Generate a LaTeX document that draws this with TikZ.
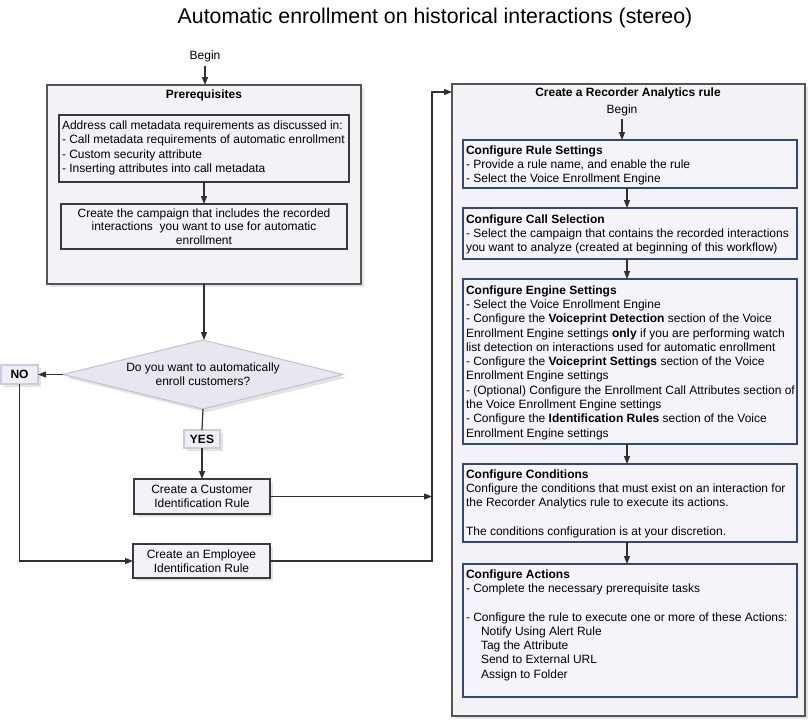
\documentclass[tikz,border=0pt]{standalone}
\usepackage{fontspec}
\setmainfont{Liberation Sans}
\usetikzlibrary{arrows.meta,shapes.geometric,shadows}
\definecolor{outerfill}{HTML}{F3F2F7}
\definecolor{outerdraw}{HTML}{555555}
\definecolor{innerdraw}{HTML}{3A3A3A}
\definecolor{rdraw}{HTML}{34477A}
\definecolor{rfill}{HTML}{F5F4FA}
\definecolor{diafill}{HTML}{E9E6F0}
\definecolor{diadraw}{HTML}{C5BEDA}
\definecolor{tagfill}{HTML}{F0EEF4}
\definecolor{tagdraw}{HTML}{CFC8DE}
\definecolor{shadowc}{HTML}{E4E4E4}
\definecolor{linec}{HTML}{303030}
\newcommand{\mystrut}{\rule{0pt}{8pt}}
\begin{document}
\begin{tikzpicture}[x=0.75pt,y=-0.75pt,
  every node/.style={inner sep=0pt, outer sep=0pt},
  shade/.style={drop shadow={shadow xshift=2.5pt, shadow yshift=-2.5pt, fill=shadowc, opacity=1}},
  outerbox/.style={draw=outerdraw, fill=outerfill, line width=1pt, shade, anchor=north west, rectangle},
  leftbox/.style={draw=innerdraw, fill=outerfill, line width=0.9pt, anchor=north west, rectangle},
  rbox/.style={draw=rdraw, fill=rfill, line width=0.9pt, anchor=north west, rectangle},
  txt/.style={font=\fontsize{9}{10.725}\selectfont, align=left, anchor=north west},
  ctxt/.style={font=\fontsize{9}{10.2}\selectfont, align=center},
  tag/.style={draw=tagdraw, fill=tagfill, line width=0.8pt, shade, font=\fontsize{9}{10}\selectfont\bfseries},
  arr/.style={draw=linec, line width=0.9pt, -{Triangle[length=6pt,width=4.5pt]}},
  ln/.style={draw=linec, line width=0.9pt}
]
\useasboundingbox (0,0) rectangle (811,722);

% title
\node[font=\fontsize{16}{18}\selectfont] (title) at (435,18) {Automatic enrollment on historical interactions (stereo)};

% left side
\node[font=\fontsize{9}{10}\selectfont] (begin) at (205,56.5) {Begin};
\node[outerbox, minimum width=235.5pt, minimum height=149.25pt] (prereq) at (47,85) {};
\node[font=\fontsize{9}{10}\selectfont\bfseries] (prereqT) at (204,95.5) {Prerequisites};
\node[leftbox, minimum width=217.5pt, minimum height=50.25pt] (in1) at (59,115) {};
\node[txt, font=\fontsize{9}{10.875}\selectfont] (in1T) at (62,118.5) {\mystrut Address call metadata requirements as discussed in:\\- Call metadata requirements of automatic enrollment\\- Custom security attribute\\- Inserting attributes into call metadata};
\node[leftbox, minimum width=214.5pt, minimum height=33.75pt, ctxt] (in2) at (61,204) {Create the campaign that includes the recorded\\interactions\ \ you want to use for automatic\\enrollment};

\node[diamond, aspect=4, draw=diadraw, fill=diafill, line width=0.8pt, minimum width=210pt, minimum height=51.75pt, ctxt, shade] (dia) at (203,374.5) {Do you want to automatically\\enroll customers?};
\node[tag, minimum width=27.75pt, minimum height=14.25pt] (no) at (19.5,374.5) {NO};
\node[tag, minimum width=27pt, minimum height=13.5pt] (yes) at (202,439) {YES};

\node[leftbox, minimum width=102pt, minimum height=26.25pt, ctxt, shade] (cust) at (134,479) {Create a Customer\\Identification Rule};
\node[leftbox, minimum width=102.75pt, minimum height=25.5pt, ctxt, shade] (emp) at (133,544) {Create an Employee\\Identification Rule};

\coordinate (J) at (432,92);

% right side
\node[outerbox, minimum width=264.75pt, minimum height=474pt] (rab) at (452,84) {};
\node[font=\fontsize{9}{10}\selectfont\bfseries] (rabT) at (628,93) {Create a Recorder Analytics rule};
\node[font=\fontsize{9}{10}\selectfont] (rbegin) at (622,110.5) {Begin};
\coordinate (ax) at (627,0);

\node[rbox, minimum width=250.5pt, minimum height=36pt] (rs) at (463,140) {};
\node[txt] (rsT) at (466,143.5) {\mystrut\textbf{Configure Rule Settings}\\- Provide a rule name, and enable the rule\\- Select the Voice Enrollment Engine};

\node[rbox, minimum width=250.5pt, minimum height=38.25pt] (cs) at (463,208) {};
\node[txt] (csT) at (466,212.5) {\mystrut\textbf{Configure Call Selection}\\- Select the campaign that contains the recorded interactions\\you want to analyze (created at beginning of this workflow)};

\node[rbox, minimum width=250.5pt, minimum height=123.75pt] (es) at (463,279) {};
\node[txt] (esT) at (466,283.5) {\mystrut\textbf{Configure Engine Settings}\\- Select the Voice Enrollment Engine\\- Configure the \textbf{Voiceprint Detection} section of the Voice\\Enrollment Engine settings \textbf{only} if you are performing watch\\list detection on interactions used for automatic enrollment\\- Configure the \textbf{Voiceprint Settings} section of the Voice\\Enrollment Engine settings\\- (Optional) Configure the Enrollment Call Attributes section of\\the Voice Enrollment Engine settings\\- Configure the \textbf{Identification Rules} section of the Voice\\Enrollment Engine settings};

\node[rbox, minimum width=250.5pt, minimum height=58.5pt] (cc) at (463,464) {};
\node[txt] (ccT) at (466,467.5) {\mystrut\textbf{Configure Conditions}\\Configure the conditions that must exist on an interaction for\\the Recorder Analytics rule to execute its actions.\\[10.725pt]The conditions configuration is at your discretion.};

\node[rbox, minimum width=250.5pt, minimum height=99.75pt] (ca) at (463,564) {};
\node[txt] (caT) at (466,567.5) {\mystrut\textbf{Configure Actions}\\- Complete the necessary prerequisite tasks\\[10.725pt]- Configure the rule to execute one or more of these Actions:\\\hspace*{11.25pt}Notify Using Alert Rule\\\hspace*{11.25pt}Tag the Attribute\\\hspace*{11.25pt}Send to External URL\\\hspace*{11.25pt}Assign to Folder};

% connectors left
\draw[arr] ([yshift=-3pt]begin.south) -- (begin.south |- prereq.north);
\draw[arr] (in1.south) -- (in2.north);
\draw[arr] (prereq.south) -- (prereq.south |- dia.north);
\draw[arr] (dia.west) -- (no.east);
\draw[ln] (dia.south) -- (yes.north);
\draw[arr] (yes.south) -- (cust.north);
\draw[arr] (no.south) |- (emp.west);
\draw[arr] (cust.east) -- (cust.east -| J);
\draw[arr] (emp.east) -| (J) -- (J -| rab.west);

% connectors right
\draw[arr] ([yshift=-2pt]rbegin.south) -- (rbegin.south |- rs.north);
\draw[arr] (rs.south -| ax) -- (cs.north -| ax);
\draw[arr] (cs.south -| ax) -- (es.north -| ax);
\draw[arr] (es.south -| ax) -- (cc.north -| ax);
\draw[arr] (cc.south -| ax) -- (ca.north -| ax);
\end{tikzpicture}
\end{document}
